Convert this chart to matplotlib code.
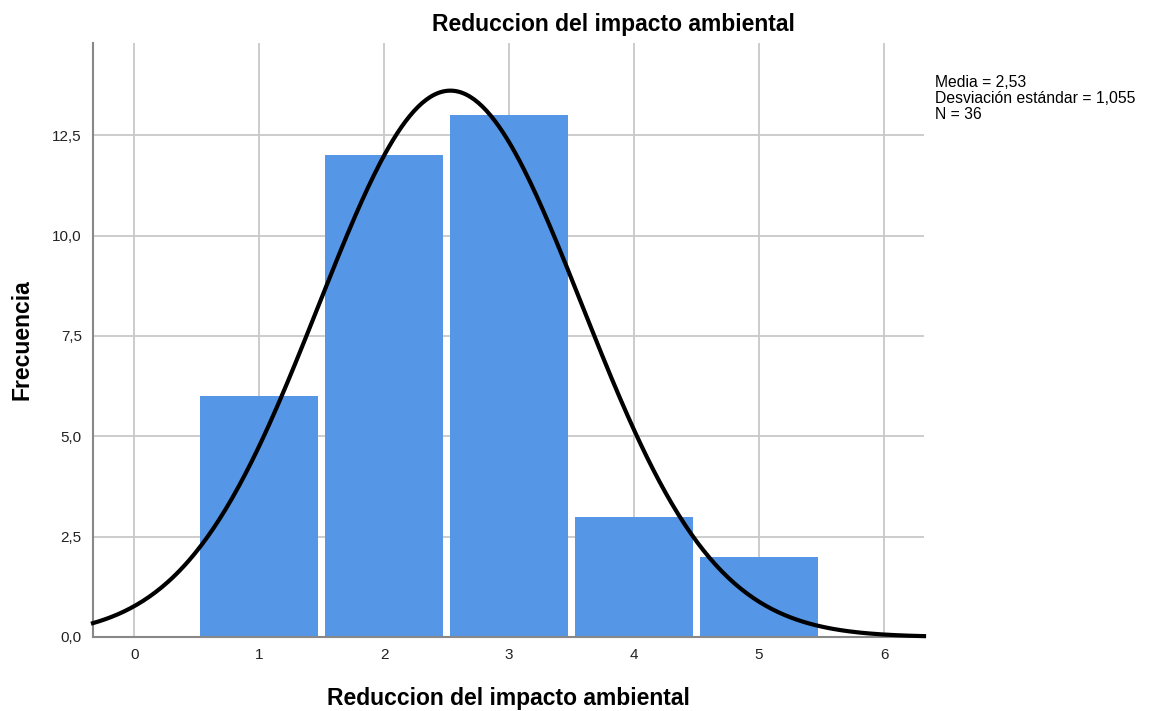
import numpy as np
import matplotlib.pyplot as plt

plt.rcParams['font.family'] = ['Liberation Sans', 'DejaVu Sans']

# datos del histograma
valores = [1, 2, 3, 4, 5]
frecuencias = [6, 12, 13, 3, 2]
media = 2.53
desv = 1.055
n = 36
xticks = [0, 1, 2, 3, 4, 5, 6]
yticks = [0.0, 2.5, 5.0, 7.5, 10.0, 12.5]
ytick_labels = ['0,0', '2,5', '5,0', '7,5', '10,0', '12,5']

fig = plt.figure(figsize=(11.49, 7.11), dpi=100)
ax = fig.add_axes([0.0809, 0.1041, 0.7233, 0.8354])

ax.bar(valores, frecuencias, width=0.945, color='#5596E6', linewidth=0, zorder=2)

# curva normal
xs = np.linspace(-0.33, 6.32, 400)
ys = n * 1.0 / (desv * np.sqrt(2 * np.pi)) * np.exp(-0.5 * ((xs - media) / desv) ** 2)
ax.plot(xs, ys, color='black', linewidth=3, zorder=3, clip_on=False)

ax.set_xlim(-0.33, 6.32)
ax.set_ylim(0, 14.8)
ax.set_xticks(xticks)
ax.set_yticks(yticks)
ax.set_yticklabels(ytick_labels)
ax.tick_params(length=0, labelsize=11, colors='#222222', pad=8)
ax.grid(True, color='#C8C8C8', linewidth=1.3, zorder=0)
ax.set_axisbelow(True)
for s in ['top', 'right']:
    ax.spines[s].set_visible(False)
for s in ['left', 'bottom']:
    ax.spines[s].set_color('#888888')
    ax.spines[s].set_linewidth(1.5)

fig.text(613 / 1149, 1 - 25 / 711, 'Reduccion del impacto ambiental',
         fontsize=16.5, fontweight='bold', ha='center', va='center')
ax.set_xlabel('Reduccion del impacto ambiental', fontsize=16.5, fontweight='bold', labelpad=18)
fig.text(22 / 1149, 1 - 340 / 711, 'Frecuencia', fontsize=16.5, fontweight='bold',
         rotation=90, ha='center', va='center')

fig.text(935 / 1149, 1 - 75 / 711, 'Media = 2,53\nDesviación estándar = 1,055\nN = 36',
         fontsize=11.3, va='top', ha='left', linespacing=1.08)

plt.savefig('out.png', dpi=100)
